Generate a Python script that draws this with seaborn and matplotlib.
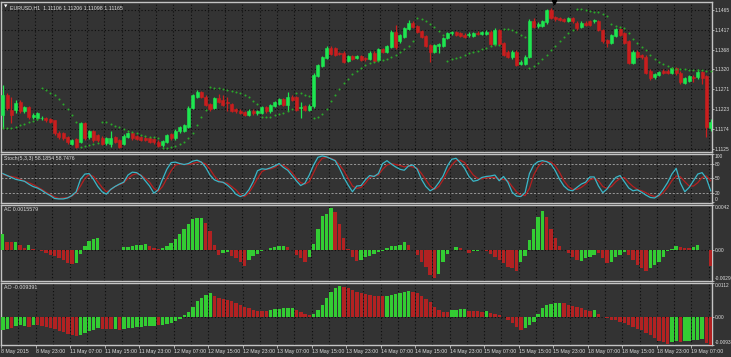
import numpy as np
import pandas as pd
import matplotlib
matplotlib.use("Agg")
import matplotlib.pyplot as plt
import seaborn as sns

# ---------------- data ----------------
time_labels = ["8 May 2015", "8 May 23:00", "11 May 07:00", "11 May 15:00", "11 May 23:00",
               "12 May 07:00", "12 May 15:00", "12 May 23:00", "13 May 07:00", "13 May 15:00",
               "13 May 23:00", "14 May 07:00", "14 May 15:00", "14 May 23:00", "15 May 07:00",
               "15 May 15:00", "15 May 23:00", "18 May 07:00", "18 May 15:00", "18 May 23:00",
               "19 May 07:00"]

price_ticks = [1.1125, 1.1174, 1.1223, 1.1271, 1.1320, 1.1368, 1.1417, 1.1465]
price_tick_labels = ["1.1125", "1.1174", "1.1223", "1.1271", "1.1320", "1.1368", "1.1417", "1.1465"]

open_ = [1.1208, 1.1257, 1.1221, 1.1221, 1.1241, 1.1217, 1.1227, 1.1203, 1.1200, 1.1200,
         1.1200, 1.1198, 1.1195, 1.1165, 1.1164, 1.1155, 1.1138, 1.1149, 1.1143, 1.1188,
         1.1154, 1.1168, 1.1159, 1.1153, 1.1139, 1.1138, 1.1155, 1.1147, 1.1138, 1.1154,
         1.1164, 1.1157, 1.1154, 1.1153, 1.1151, 1.1149, 1.1143, 1.1135, 1.1143, 1.1162,
         1.1151, 1.1168, 1.1170, 1.1180, 1.1225, 1.1253, 1.1265, 1.1253, 1.1235, 1.1225,
         1.1249, 1.1245, 1.1241, 1.1235, 1.1222, 1.1219, 1.1215, 1.1208, 1.1219, 1.1212,
         1.1214, 1.1227, 1.1217, 1.1231, 1.1235, 1.1247, 1.1233, 1.1253, 1.1252, 1.1225,
         1.1229, 1.1221, 1.1229, 1.1304, 1.1328, 1.1347, 1.1373, 1.1371, 1.1360, 1.1361,
         1.1340, 1.1353, 1.1347, 1.1353, 1.1347, 1.1345, 1.1361, 1.1343, 1.1369, 1.1363,
         1.1375, 1.1412, 1.1388, 1.1400, 1.1418, 1.1434, 1.1426, 1.1413, 1.1402, 1.1379,
         1.1363, 1.1377, 1.1377, 1.1396, 1.1408, 1.1411, 1.1408, 1.1405, 1.1403, 1.1402,
         1.1408, 1.1406, 1.1406, 1.1412, 1.1382, 1.1415, 1.1384, 1.1363, 1.1349, 1.1363,
         1.1333, 1.1333, 1.1351, 1.1438, 1.1426, 1.1426, 1.1435, 1.1465, 1.1447, 1.1445,
         1.1443, 1.1439, 1.1445, 1.1434, 1.1423, 1.1434, 1.1437, 1.1437, 1.1437, 1.1416,
         1.1392, 1.1384, 1.1402, 1.1418, 1.1408, 1.1388, 1.1336, 1.1363, 1.1355, 1.1351,
         1.1317, 1.1300, 1.1306, 1.1317, 1.1317, 1.1312, 1.1323, 1.1312, 1.1287, 1.1292,
         1.1302, 1.1300, 1.1314, 1.1304, 1.1176]

close = [1.1257, 1.1225, 1.1208, 1.1237, 1.1217, 1.1227, 1.1203, 1.1208, 1.1212, 1.1201,
         1.1195, 1.1192, 1.1164, 1.1154, 1.1151, 1.1141, 1.1147, 1.1131, 1.1188, 1.1151,
         1.1168, 1.1147, 1.1147, 1.1138, 1.1151, 1.1153, 1.1143, 1.1131, 1.1157, 1.1164,
         1.1151, 1.1149, 1.1147, 1.1147, 1.1143, 1.1141, 1.1133, 1.1145, 1.1159, 1.1151,
         1.1170, 1.1178, 1.1183, 1.1225, 1.1257, 1.1265, 1.1252, 1.1233, 1.1222, 1.1249,
         1.1241, 1.1233, 1.1237, 1.1219, 1.1217, 1.1214, 1.1208, 1.1219, 1.1212, 1.1217,
         1.1227, 1.1217, 1.1233, 1.1239, 1.1248, 1.1233, 1.1252, 1.1245, 1.1221, 1.1227,
         1.1221, 1.1230, 1.1306, 1.1331, 1.1349, 1.1371, 1.1357, 1.1355, 1.1358, 1.1339,
         1.1353, 1.1345, 1.1353, 1.1343, 1.1346, 1.1361, 1.1341, 1.1369, 1.1363, 1.1377,
         1.1412, 1.1375, 1.1404, 1.1420, 1.1434, 1.1424, 1.1412, 1.1400, 1.1377, 1.1363,
         1.1379, 1.1382, 1.1396, 1.1408, 1.1411, 1.1404, 1.1402, 1.1400, 1.1406, 1.1408,
         1.1406, 1.1410, 1.1412, 1.1381, 1.1416, 1.1382, 1.1355, 1.1351, 1.1363, 1.1331,
         1.1339, 1.1351, 1.1439, 1.1424, 1.1432, 1.1437, 1.1465, 1.1445, 1.1442, 1.1441,
         1.1439, 1.1445, 1.1437, 1.1420, 1.1434, 1.1428, 1.1428, 1.1441, 1.1416, 1.1388,
         1.1384, 1.1404, 1.1418, 1.1404, 1.1384, 1.1335, 1.1363, 1.1351, 1.1349, 1.1312,
         1.1298, 1.1308, 1.1314, 1.1312, 1.1312, 1.1323, 1.1310, 1.1290, 1.1298, 1.1304,
         1.1298, 1.1314, 1.1298, 1.1180, 1.1192]

high = [1.1282, 1.1262, 1.1253, 1.1245, 1.1246, 1.1231, 1.1230, 1.1212, 1.1216, 1.1205,
        1.1203, 1.1201, 1.1197, 1.1168, 1.1167, 1.1158, 1.1150, 1.1152, 1.1192, 1.1191,
        1.1172, 1.1171, 1.1162, 1.1156, 1.1155, 1.1170, 1.1158, 1.1150, 1.1162, 1.1167,
        1.1167, 1.1160, 1.1157, 1.1156, 1.1154, 1.1152, 1.1146, 1.1148, 1.1162, 1.1165,
        1.1173, 1.1181, 1.1186, 1.1229, 1.1260, 1.1270, 1.1268, 1.1256, 1.1238, 1.1253,
        1.1260, 1.1256, 1.1253, 1.1238, 1.1225, 1.1222, 1.1218, 1.1222, 1.1222, 1.1220,
        1.1230, 1.1230, 1.1236, 1.1242, 1.1251, 1.1250, 1.1264, 1.1256, 1.1255, 1.1239,
        1.1232, 1.1236, 1.1310, 1.1334, 1.1352, 1.1378, 1.1376, 1.1374, 1.1363, 1.1364,
        1.1356, 1.1356, 1.1356, 1.1356, 1.1350, 1.1364, 1.1364, 1.1372, 1.1372, 1.1380,
        1.1416, 1.1428, 1.1407, 1.1423, 1.1440, 1.1437, 1.1429, 1.1416, 1.1405, 1.1382,
        1.1382, 1.1385, 1.1399, 1.1411, 1.1414, 1.1414, 1.1411, 1.1408, 1.1410, 1.1411,
        1.1414, 1.1413, 1.1415, 1.1415, 1.1420, 1.1418, 1.1387, 1.1366, 1.1366, 1.1366,
        1.1342, 1.1354, 1.1442, 1.1445, 1.1435, 1.1440, 1.1468, 1.1469, 1.1450, 1.1448,
        1.1446, 1.1448, 1.1448, 1.1437, 1.1437, 1.1437, 1.1440, 1.1444, 1.1440, 1.1419,
        1.1395, 1.1407, 1.1421, 1.1421, 1.1411, 1.1391, 1.1366, 1.1366, 1.1358, 1.1354,
        1.1320, 1.1311, 1.1317, 1.1320, 1.1320, 1.1326, 1.1326, 1.1315, 1.1301, 1.1307,
        1.1305, 1.1320, 1.1317, 1.1307, 1.1198]

low = [1.1176, 1.1220, 1.1188, 1.1212, 1.1212, 1.1213, 1.1199, 1.1198, 1.1196, 1.1196,
       1.1192, 1.1189, 1.1160, 1.1150, 1.1148, 1.1137, 1.1134, 1.1128, 1.1140, 1.1148,
       1.1150, 1.1143, 1.1143, 1.1134, 1.1136, 1.1131, 1.1140, 1.1128, 1.1134, 1.1151,
       1.1148, 1.1146, 1.1144, 1.1144, 1.1140, 1.1138, 1.1130, 1.1131, 1.1140, 1.1148,
       1.1148, 1.1165, 1.1167, 1.1177, 1.1222, 1.1250, 1.1249, 1.1230, 1.1219, 1.1222,
       1.1238, 1.1230, 1.1217, 1.1216, 1.1214, 1.1211, 1.1205, 1.1205, 1.1209, 1.1209,
       1.1211, 1.1214, 1.1214, 1.1228, 1.1232, 1.1230, 1.1217, 1.1242, 1.1218, 1.1200,
       1.1218, 1.1218, 1.1226, 1.1301, 1.1325, 1.1344, 1.1354, 1.1352, 1.1355, 1.1336,
       1.1337, 1.1342, 1.1344, 1.1340, 1.1341, 1.1342, 1.1338, 1.1340, 1.1360, 1.1360,
       1.1372, 1.1370, 1.1385, 1.1397, 1.1415, 1.1421, 1.1409, 1.1397, 1.1374, 1.1339,
       1.1360, 1.1360, 1.1374, 1.1393, 1.1405, 1.1401, 1.1399, 1.1397, 1.1400, 1.1399,
       1.1403, 1.1403, 1.1403, 1.1378, 1.1379, 1.1379, 1.1352, 1.1348, 1.1346, 1.1328,
       1.1330, 1.1330, 1.1348, 1.1421, 1.1420, 1.1423, 1.1432, 1.1442, 1.1439, 1.1438,
       1.1436, 1.1436, 1.1434, 1.1417, 1.1420, 1.1425, 1.1425, 1.1434, 1.1413, 1.1385,
       1.1375, 1.1381, 1.1399, 1.1401, 1.1381, 1.1332, 1.1333, 1.1348, 1.1346, 1.1309,
       1.1295, 1.1297, 1.1303, 1.1309, 1.1309, 1.1309, 1.1307, 1.1284, 1.1284, 1.1289,
       1.1290, 1.1297, 1.1285, 1.1155, 1.1170]

sar = [1.1176, 1.1176, 1.1177, 1.1180, 1.1183, 1.1186, 1.1190, 1.1193, 1.1198, 1.1274,
       1.1270, 1.1263, 1.1256, 1.1247, 1.1235, 1.1222, 1.1208, 1.1192, 1.1131, 1.1133,
       1.1134, 1.1137, 1.1139, 1.1192, 1.1190, 1.1186, 1.1182, 1.1178, 1.1174, 1.1170,
       1.1166, 1.1163, 1.1160, 1.1158, 1.1155, 1.1154, 1.1152, 1.1127, 1.1127, 1.1130,
       1.1133, 1.1137, 1.1143, 1.1151, 1.1165, 1.1184, 1.1204, 1.1221, 1.1276, 1.1275,
       1.1274, 1.1272, 1.1270, 1.1267, 1.1265, 1.1261, 1.1257, 1.1252, 1.1243, 1.1235,
       1.1203, 1.1203, 1.1204, 1.1207, 1.1210, 1.1214, 1.1219, 1.1224, 1.1263, 1.1261,
       1.1258, 1.1254, 1.1200, 1.1203, 1.1210, 1.1223, 1.1243, 1.1258, 1.1273, 1.1286,
       1.1297, 1.1308, 1.1317, 1.1324, 1.1331, 1.1336, 1.1339, 1.1341, 1.1343, 1.1345,
       1.1349, 1.1355, 1.1362, 1.1369, 1.1378, 1.1389, 1.1445, 1.1442, 1.1439, 1.1432,
       1.1423, 1.1413, 1.1405, 1.1340, 1.1345, 1.1347, 1.1351, 1.1355, 1.1359, 1.1362,
       1.1365, 1.1369, 1.1373, 1.1377, 1.1379, 1.1380, 1.1419, 1.1419, 1.1415, 1.1411,
       1.1405, 1.1398, 1.1323, 1.1327, 1.1335, 1.1345, 1.1355, 1.1366, 1.1377, 1.1388,
       1.1398, 1.1408, 1.1416, 1.1468, 1.1467, 1.1465, 1.1463, 1.1461, 1.1459, 1.1455,
       1.1450, 1.1432, 1.1426, 1.1424, 1.1420, 1.1408, 1.1394, 1.1385, 1.1375, 1.1366,
       1.1355, 1.1346, 1.1339, 1.1333, 1.1328, 1.1323, 1.1321, 1.1320, 1.1320, 1.1319,
       1.1318, 1.1318, 1.1318, 1.1317, 1.1316]

stoch_main = [60, 56, 52, 48, 46, 44, 38, 33, 30, 25,
              19, 14, 8, 7, 7, 9, 14, 22, 48, 59,
              60, 48, 33, 22, 17, 27, 33, 38, 42, 57,
              63, 62, 56, 45, 34, 19, 26, 48, 69, 83,
              84, 81, 79, 81, 86, 88, 84, 73, 57, 47,
              43, 42, 36, 28, 17, 12, 15, 26, 43, 66,
              70, 69, 72, 76, 81, 73, 67, 56, 45, 35,
              40, 57, 78, 94, 97, 95, 91, 87, 71, 52,
              36, 22, 34, 35, 47, 56, 54, 60, 81, 87,
              80, 74, 69, 67, 76, 78, 69, 48, 33, 24,
              29, 41, 55, 76, 90, 92, 83, 71, 54, 44,
              46, 52, 54, 55, 57, 45, 54, 42, 21, 13,
              12, 20, 60, 78, 85, 87, 85, 80, 66, 48,
              34, 26, 24, 31, 38, 42, 53, 53, 34, 20,
              28, 41, 52, 56, 43, 30, 24, 26, 21, 15,
              10, 9, 15, 27, 41, 59, 71, 40, 22, 31,
              45, 59, 62, 50, 24]

stoch_signal = [59, 55, 54, 52, 48, 44, 41, 37, 32, 27,
                21, 16, 11, 8, 9, 10, 13, 20, 34, 50,
                58, 54, 43, 31, 22, 26, 33, 37, 41, 50,
                57, 60, 57, 50, 42, 29, 23, 33, 50, 66,
                78, 80, 79, 79, 81, 84, 84, 80, 69, 55,
                45, 41, 40, 33, 26, 16, 12, 20, 34, 50,
                64, 69, 70, 73, 79, 77, 71, 62, 50, 41,
                38, 43, 62, 81, 92, 94, 92, 88, 78, 66,
                50, 34, 29, 31, 40, 52, 55, 57, 69, 78,
                81, 79, 77, 74, 76, 74, 71, 60, 47, 34,
                27, 33, 47, 64, 78, 87, 88, 83, 69, 57,
                50, 49, 51, 52, 52, 48, 48, 45, 33, 22,
                15, 14, 29, 57, 74, 84, 86, 84, 76, 62,
                45, 33, 27, 27, 31, 38, 47, 50, 45, 33,
                29, 33, 43, 50, 52, 41, 33, 27, 24, 20,
                15, 12, 13, 20, 31, 45, 55, 53, 43, 34,
                34, 41, 52, 55, 45]

stoch_levels = [20, 50, 80]
stoch_ticks = [0, 20, 50, 80, 100]

ac = [0.00143, 0.00070, 0.00070, 0.00076, 0.00048, 0.00019, 0.00045, 0.00010, -0.00006, -0.00016,
      -0.00032, -0.00048, -0.00057, -0.00080, -0.00095, -0.00120, -0.00134, -0.00127, -0.00038, 0.00032,
      0.00080, 0.00102, 0.00111, 0.00002, -0.00006, -0.00004, -0.00003, -0.00002, 0.00022, 0.00029,
      0.00035, 0.00041, 0.00048, 0.00057, 0.00032, 0.00016, 0.00006, 0.00016, 0.00032, 0.00064,
      0.00102, 0.00143, 0.00191, 0.00239, 0.00286, 0.00293, 0.00299, 0.00254, 0.00175, 0.00048,
      -0.00048, -0.00030, -0.00020, -0.00057, -0.00080, -0.00111, -0.00153, -0.00095, -0.00057, -0.00038,
      -0.00016, 0.00000, 0.00016, 0.00025, 0.00032, 0.00034, 0.00022, 0.00000, -0.00048, -0.00080,
      -0.00111, -0.00070, 0.00054, 0.00191, 0.00318, 0.00334, 0.00388, 0.00350, 0.00239, 0.00111,
      0.00006, -0.00070, -0.00105, -0.00095, -0.00064, -0.00057, -0.00038, -0.00025, -0.00016, 0.00016,
      0.00032, 0.00038, 0.00048, 0.00070, 0.00048, -0.00001, -0.00048, -0.00111, -0.00165, -0.00239,
      -0.00261, -0.00223, -0.00111, -0.00038, 0.00001, 0.00025, 0.00016, -0.00003, -0.00032, -0.00016,
      -0.00010, -0.00006, -0.00016, -0.00038, -0.00064, -0.00095, -0.00127, -0.00159, -0.00175, -0.00197,
      -0.00111, -0.00057, 0.00095, 0.00197, 0.00302, 0.00359, 0.00302, 0.00191, 0.00111, 0.00032,
      -0.00005, -0.00032, -0.00064, -0.00095, -0.00102, -0.00080, -0.00070, -0.00048, -0.00032, -0.00080,
      -0.00127, -0.00111, -0.00064, -0.00048, -0.00025, -0.00048, -0.00095, -0.00143, -0.00175, -0.00197,
      -0.00175, -0.00143, -0.00111, -0.00064, -0.00016, 0.00010, 0.00032, 0.00025, 0.00016, 0.00016,
      0.00025, 0.00045, 0.00002, 0.00002, -0.00150]
ac_dir = list("GRRGRRGRRR" "RRRRRRRGGG" "GGGRRGGGGG" "GGGGRRRGGG" "GGGGGGGRRR"
              "RGGRRRRGGG" "GGGGGGRRRR" "RGGGGGGRRR" "RRRGGGGGGG" "GGGGRRRRRR"
              "RGGGGGRRRG" "GGRRRRRRRR" "GGGGGGRRRR" "RRRRGGGGRR" "RGGGGRRRRR"
              "GGGGGGGRRR" "GGRRR")

ao = [-0.0046, -0.0040, -0.0038, -0.0031, -0.0029, -0.0031, -0.0035, -0.0027, -0.0029, -0.0032,
      -0.0035, -0.0038, -0.0043, -0.0047, -0.0052, -0.0057, -0.0063, -0.0066, -0.0060, -0.0054,
      -0.0049, -0.0044, -0.0038, -0.0040, -0.0043, -0.0043, -0.0040, -0.0044, -0.0040, -0.0038,
      -0.0037, -0.0036, -0.0035, -0.0032, -0.0031, -0.0030, -0.0029, -0.0027, -0.0025, -0.0021,
      -0.0016, -0.0007, 0.0004, 0.0016, 0.0032, 0.0052, 0.0063, 0.0072, 0.0077, 0.0069,
      0.0063, 0.0058, 0.0056, 0.0052, 0.0046, 0.0040, 0.0032, 0.0027, 0.0022, 0.0020,
      0.0019, 0.0019, 0.0022, 0.0025, 0.0026, 0.0027, 0.0028, 0.0030, 0.0021, 0.0016,
      0.0010, 0.0006, 0.0009, 0.0021, 0.0038, 0.0063, 0.0083, 0.0096, 0.0102, 0.0100,
      0.0094, 0.0088, 0.0083, 0.0077, 0.0074, 0.0072, 0.0069, 0.0068, 0.0067, 0.0069,
      0.0072, 0.0075, 0.0077, 0.0083, 0.0086, 0.0083, 0.0077, 0.0069, 0.0060, 0.0049,
      0.0032, 0.0021, 0.0016, 0.0015, 0.0021, 0.0022, 0.0024, 0.0025, 0.0020, 0.0018,
      0.0017, 0.0016, 0.0019, 0.0013, 0.0010, 0.0004, -0.0001, -0.0010, -0.0020, -0.0035,
      -0.0046, -0.0038, -0.0027, -0.0018, 0.0010, 0.0027, 0.0038, 0.0041, 0.0044, 0.0046,
      0.0044, 0.0038, 0.0035, 0.0031, 0.0027, 0.0022, 0.0020, 0.0021, 0.0010, -0.0001,
      -0.0006, -0.0010, -0.0013, -0.0018, -0.0021, -0.0027, -0.0035, -0.0040, -0.0046, -0.0054,
      -0.0063, -0.0071, -0.0080, -0.0085, -0.0091, -0.0085, -0.0083, -0.0086, -0.0081, -0.0080,
      -0.0079, -0.0077, -0.0074, -0.0088, -0.0094]
ao_dir = list("GGRGGGRGRR" "RRRRRRRRGG" "GGGRRRGRGG" "GGGGGGRGGG" "GGGGGGGGGR"
              "RRRRRRRRRR" "RRGGGGGGRR" "RRGGGGGGGR" "RRRRRRRRRG" "GGGGGRRRRR"
              "RRRRGGGGRR" "RRGRRRRRRR" "RGGGGGGGGG" "RRRRRRRGRR" "RRRRRRRRRR"
              "RRRRRGGRGG" "GGGRR")

title_main = "EURUSD,H1  1.11106 1.11206 1.11098 1.11165"
title_stoch = "Stoch(5,3,3) 58.1854 58.7476"
title_ac = "AC 0.0015579"
title_ao = "AO -0.009391"
ac_range = [0.00418, 0.0, -0.00292]
ac_tick_labels = ["0.0042", "0.00", "-0.0029"]
ao_range = [0.0112, 0.0, -0.0095]
ao_tick_labels = ["0.0112", "0.00", "-0.0093"]

n = len(close)
for arr in (open_, high, low, sar, stoch_main, stoch_signal, ac, ac_dir, ao, ao_dir):
    assert len(arr) == n, len(arr)

# ---------------- style ----------------
W, H = 731, 357
BG = "#333333"
FRAME = "#c4c4c4"
GRID = "#0d0d0d"
TXT = "#dcdcdc"
BULL = "#1ee650"
BEAR = "#c81e1e"
SAR_C = "#2aa82a"
CYAN = "#3ab7c8"
SIG = "#b52020"
HG = "#33cc33"
HR = "#b22222"
FONT = ["Liberation Sans", "DejaVu Sans"]
FS = 3.8
FS_R = 3.5

plt.rcParams["font.family"] = FONT
fig = plt.figure(figsize=(W / 100, H / 100), dpi=100, facecolor=BG)

LEFT, RIGHT = 1, 712
XLIM = (-0.42, 164.3)


def panel(top, bottom):
    ax = fig.add_axes([LEFT / W, 1 - bottom / H, (RIGHT - LEFT) / W, (bottom - top) / H])
    ax.set_facecolor(BG)
    for s in ax.spines.values():
        s.set_color(FRAME)
        s.set_linewidth(1.0)
    ax.set_xlim(*XLIM)
    ax.yaxis.tick_right()
    ax.tick_params(axis="y", length=1.5, width=0.6, color=FRAME, pad=0.6,
                   labelsize=FS_R, labelcolor=TXT)
    ax.tick_params(axis="x", length=0, labelbottom=False)
    # vertical dotted grid every 4 bars
    for gx in np.arange(3.5, n, 4):
        ax.axvline(gx, color=GRID, lw=0.8, ls=(0, (1, 2)), zorder=0.5)
    return ax


idx = np.arange(n)
o = np.array(open_); c = np.array(close); h = np.array(high); l = np.array(low)
up = c >= o

# ---------------- main price panel ----------------
ax1 = panel(2, 152)
ax1.set_ylim(1.11177, 1.14846)
for pt in price_ticks:
    ax1.axhline(pt, color=GRID, lw=0.8, ls=(0, (1, 2)), zorder=0.5)
cols = np.where(up, BULL, BEAR)
ax1.vlines(idx, l, h, colors=cols, lw=0.9, zorder=2)
ax1.bar(idx, np.abs(c - o), bottom=np.minimum(o, c), width=0.7, color=cols,
        edgecolor=cols, linewidth=0.4, zorder=3)
sns.scatterplot(x=idx, y=sar, color=SAR_C, s=2.2, linewidth=0, ax=ax1, zorder=4)
ax1.set_yticks(price_ticks)
ax1.set_yticklabels(price_tick_labels)
ax1.set_xlabel(""); ax1.set_ylabel("")
ax1.text(9 / (RIGHT - LEFT), 1 - 3 / 150, title_main, transform=ax1.transAxes,
         fontsize=FS, color=TXT, va="top", ha="left")
ax1.text(3 / (RIGHT - LEFT), 1 - 3 / 150, "\u25bc", transform=ax1.transAxes,
         fontsize=3.2, color="white", va="top", ha="left", family="DejaVu Sans")
# small black marker on the top border
ax1.plot([127.6], [1.14846], marker="v", color="black", ms=3.2, clip_on=False, zorder=6)

# ---------------- stochastic ----------------
ax2 = panel(154, 203)
ax2.set_ylim(-1.5, 101)
for lv in stoch_levels:
    ax2.axhline(lv, color="#a8a8a8", lw=0.6, ls=(0, (2.5, 2)), zorder=0.6)
sns.lineplot(x=idx, y=stoch_signal, color=SIG, lw=0.9, ax=ax2, zorder=3)
sns.lineplot(x=idx, y=stoch_main, color=CYAN, lw=0.9, ax=ax2, zorder=4)
ax2.set_yticks(stoch_ticks)
ax2.set_yticklabels([str(t) for t in stoch_ticks])
labs = ax2.get_yticklabels()
labs[-1].set_va("top")
labs[0].set_va("bottom")
ax2.set_xlabel(""); ax2.set_ylabel("")
ax2.text(3 / (RIGHT - LEFT), 1 - 2 / 49, title_stoch, transform=ax2.transAxes,
         fontsize=FS, color=TXT, va="top", ha="left")

# ---------------- AC ----------------
pal = {"G": HG, "R": HR}
ax3 = panel(205, 281)
df_ac = pd.DataFrame({"bar": idx, "ac": ac, "dir": ac_dir})
sns.barplot(data=df_ac, x="bar", y="ac", hue="dir", palette=pal, native_scale=True,
            dodge=False, width=0.78, saturation=1, errorbar=None, legend=False,
            linewidth=0, ax=ax3, zorder=3)
ax3.set_xlim(*XLIM)
ax3.set_ylim(ac_range[2], ac_range[0])
ax3.axhline(0, color=GRID, lw=0.8, ls=(0, (1, 2)), zorder=0.5)
ax3.set_yticks(ac_range)
ax3.set_yticklabels(ac_tick_labels)
l3 = ax3.get_yticklabels()
l3[0].set_va("top"); l3[2].set_va("bottom")
ax3.set_xlabel(""); ax3.set_ylabel("")
ax3.text(3 / (RIGHT - LEFT), 1 - 2 / 76, title_ac, transform=ax3.transAxes,
         fontsize=FS, color=TXT, va="top", ha="left")

# ---------------- AO ----------------
ax4 = panel(283, 345)
df_ao = pd.DataFrame({"bar": idx, "ao": ao, "dir": ao_dir})
sns.barplot(data=df_ao, x="bar", y="ao", hue="dir", palette=pal, native_scale=True,
            dodge=False, width=0.78, saturation=1, errorbar=None, legend=False,
            linewidth=0, ax=ax4, zorder=3)
ax4.set_xlim(*XLIM)
ax4.set_ylim(ao_range[2], ao_range[0])
ax4.axhline(0, color=GRID, lw=0.8, ls=(0, (1, 2)), zorder=0.5)
ax4.set_yticks(ao_range)
ax4.set_yticklabels(ao_tick_labels)
l4 = ax4.get_yticklabels()
l4[0].set_va("top"); l4[2].set_va("bottom")
ax4.set_ylabel("")
ax4.text(3 / (RIGHT - LEFT), 1 - 2 / 62, title_ao, transform=ax4.transAxes,
         fontsize=FS, color=TXT, va="top", ha="left")
# time axis
xt = np.arange(0, 161, 8) - 0.5
ax4.set_xticks(xt)
ax4.set_xticklabels(time_labels)
ax4.tick_params(axis="x", length=2, width=0.6, color=FRAME, pad=1, labelsize=FS,
                labelcolor=TXT, labelbottom=True)
for lb in ax4.get_xticklabels():
    lb.set_ha("left")
ax4.set_xlabel("")

fig.savefig("out.png", dpi=100, facecolor=BG)
